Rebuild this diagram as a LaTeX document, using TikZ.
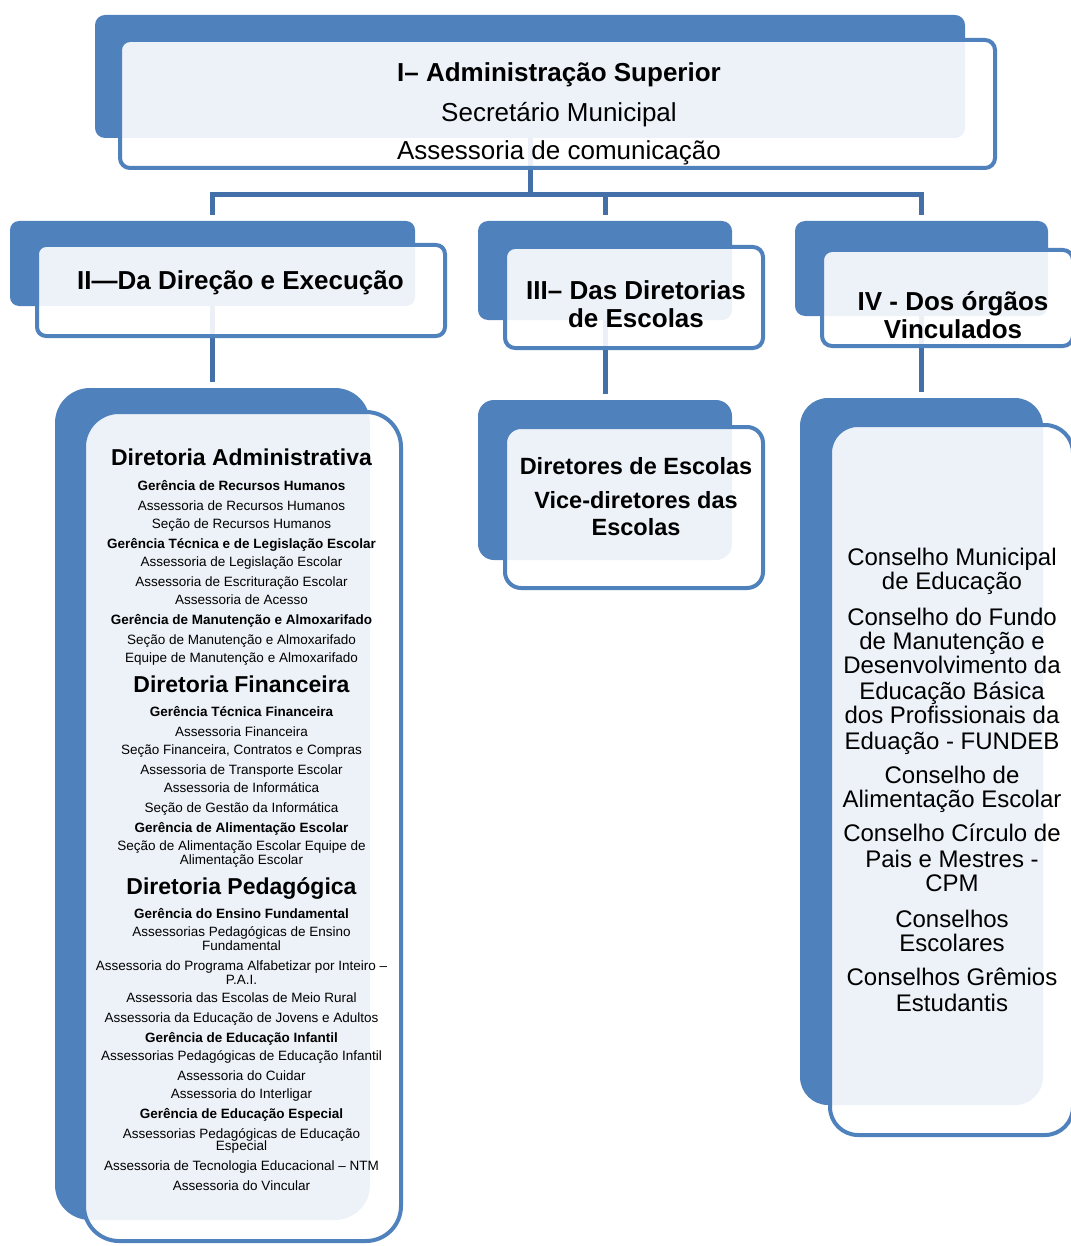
\documentclass[tikz,border=0pt]{standalone}
\usepackage{fontspec}
\setmainfont{Liberation Sans}
\definecolor{boxblue}{HTML}{4F81BD}
\definecolor{linkblue}{HTML}{4370A8}
\pgfdeclarelayer{links}
\pgfsetlayers{links,main}
\tikzset{
  backbox/.style={rectangle, fill=boxblue, inner sep=0pt},
  frontbox/.style={rectangle, fill=white, fill opacity=0.9, draw=boxblue, line width=4pt, inner sep=0pt},
  link/.style={draw=linkblue, line width=5pt},
  titleline/.style={font=\fontsize{26}{30}\selectfont\bfseries, anchor=base, yshift=-9.4pt, inner sep=0pt},
  plainline/.style={font=\fontsize{26}{30}\selectfont, anchor=base, yshift=-9.4pt, inner sep=0pt},
  escline/.style={font=\fontsize{23.5}{27}\selectfont\bfseries, anchor=base, yshift=-8.5pt, inner sep=0pt},
  dirhead/.style={font=\fontsize{23}{26}\selectfont\bfseries, anchor=base, yshift=-8.3pt, inner sep=0pt},
  gerline/.style={font=\fontsize{13.5}{15}\selectfont\bfseries, anchor=base, yshift=-4.9pt, inner sep=0pt},
  subline/.style={font=\fontsize{13.5}{15}\selectfont, anchor=base, yshift=-4.9pt, inner sep=0pt},
  orgline/.style={font=\fontsize{24}{27}\selectfont, anchor=base, yshift=-8.6pt, inner sep=0pt}
}
\begin{document}
\begin{tikzpicture}[x=1pt, y=-1pt]
  \useasboundingbox (0,0) rectangle (1070,1246);
  % back boxes
  \node[backbox, rounded corners=10pt, minimum width=870pt, minimum height=123pt] (supb) at (530,76.5) {};
  \node[backbox, rounded corners=9pt, minimum width=405pt, minimum height=85pt] (direcb) at (212.5,263.5) {};
  \node[backbox, rounded corners=10pt, minimum width=254pt, minimum height=99pt] (escb) at (605,270.5) {};
  \node[backbox, rounded corners=10pt, minimum width=253pt, minimum height=95pt] (orgb) at (921.5,268.5) {};
  \node[backbox, rounded corners=35pt, minimum width=315pt, minimum height=832pt] (admb) at (212.5,804) {};
  \node[backbox, rounded corners=16pt, minimum width=254pt, minimum height=160pt] (diretb) at (605,480) {};
  \node[backbox, rounded corners=28pt, minimum width=243pt, minimum height=707pt] (consb) at (921.5,751.5) {};
  \coordinate (bar) at (530,195);

  % front boxes
  \node[frontbox, rounded corners=10pt, minimum width=875pt, minimum height=128pt] (supf) at (557.5,104) {};
  \node[frontbox, rounded corners=9pt, minimum width=408pt, minimum height=91pt] (direcf) at (241,290.5) {};
  \node[frontbox, rounded corners=10pt, minimum width=258pt, minimum height=101pt] (escf) at (634,297.5) {};
  \node[frontbox, rounded corners=10pt, minimum width=251pt, minimum height=96pt] (orgf) at (947.5,298) {};
  \node[frontbox, rounded corners=35pt, minimum width=317pt, minimum height=829pt] (admf) at (242.5,826.5) {};
  \node[frontbox, rounded corners=16pt, minimum width=258pt, minimum height=161pt] (diretf) at (634,507.5) {};
  \node[frontbox, rounded corners=28pt, minimum width=243pt, minimum height=710pt] (consf) at (951.5,780) {};

  % connectors, behind the boxes
  \begin{pgfonlayer}{links}
    \draw[link] (supb.center) -- (bar);
    \draw[link, shorten >=6pt] (bar) -| (direcb.north);
    \draw[link, shorten >=6pt] (bar) -| (escb.north);
    \draw[link, shorten >=6pt] (bar) -| (orgb.north);
    \draw[link, shorten >=6pt] (direcb.center) -- (admb.north);
    \draw[link, shorten >=6pt] (escb.center) -- (diretb.north);
    \draw[link, shorten >=6pt] (orgb.center) -- (consb.north);
  \end{pgfonlayer}

  % texts
  \node[titleline] (sup1) at (559,72) {I– Administração Superior};
  \node[plainline] (sup2) at (559,112) {Secretário Municipal};
  \node[plainline] (sup3) at (559,150) {Assessoria de comunicação};
  \node[titleline] (direc1) at (240.5,280) {II—Da Direção e Execução};
  \node[titleline] (esc1) at (636,290) {III– Das Diretorias};
  \node[titleline] (esc2) at (636,318) {de Escolas};
  \node[titleline] (org1) at (953,301) {IV - Dos órgãos};
  \node[titleline] (org2) at (953,329) {Vinculados};
  \node[escline] (diret1) at (636,466) {Diretores de Escolas};
  \node[escline] (diret2) at (636,500) {Vice-diretores das};
  \node[escline] (diret3) at (636,527) {Escolas};

  \foreach \yy/\kind/\txt [count=\i] in {
      457/dirhead/Diretoria Administrativa,
      486/gerline/Gerência de Recursos Humanos,
      506/subline/Assessoria de Recursos Humanos,
      524/subline/Seção de Recursos Humanos,
      544/gerline/Gerência Técnica e de Legislação Escolar,
      562/subline/Assessoria de Legislação Escolar,
      582/subline/Assessoria de Escrituração Escolar,
      600/subline/Assessoria de Acesso,
      620/gerline/Gerência de Manutenção e Almoxarifado,
      640/subline/Seção de Manutenção e Almoxarifado,
      658/subline/Equipe de Manutenção e Almoxarifado,
      684/dirhead/Diretoria Financeira,
      712/gerline/Gerência Técnica Financeira,
      732/subline/Assessoria Financeira,
      750/subline/{Seção Financeira, Contratos e Compras},
      770/subline/Assessoria de Transporte Escolar,
      788/subline/Assessoria de Informática,
      808/subline/Seção de Gestão da Informática,
      828/gerline/Gerência de Alimentação Escolar,
      846/subline/Seção de Alimentação Escolar Equipe de,
      860/subline/Alimentação Escolar,
      886/dirhead/Diretoria Pedagógica,
      914/gerline/Gerência do Ensino Fundamental,
      932/subline/Assessorias Pedagógicas de Ensino,
      946/subline/Fundamental,
      966/subline/Assessoria do Programa Alfabetizar por Inteiro –,
      980/subline/P.A.I.,
      998/subline/Assessoria das Escolas de Meio Rural,
      1018/subline/Assessoria da Educação de Jovens e Adultos,
      1038/gerline/Gerência de Educação Infantil,
      1056/subline/Assessorias Pedagógicas de Educação Infantil,
      1076/subline/Assessoria do Cuidar,
      1094/subline/Assessoria do Interligar,
      1114/gerline/Gerência de Educação Especial,
      1134/subline/Assessorias Pedagógicas de Educação,
      1146/subline/Especial,
      1166/subline/Assessoria de Tecnologia Educacional – NTM,
      1186/subline/Assessoria do Vincular}
    \node[\kind] (adm\i) at (241.5,\yy) {\txt};

  \foreach \yy/\txt [count=\i] in {
      557/Conselho Municipal,
      581/de Educação,
      617/Conselho do Fundo,
      641/de Manutenção e,
      665/Desenvolvimento da,
      691/Educação Básica,
      715/dos Profissionais da,
      741/Eduação - FUNDEB,
      775/Conselho de,
      799/Alimentação Escolar,
      833/Conselho Círculo de,
      859/Pais e Mestres -,
      883/CPM,
      919/Conselhos,
      943/Escolares,
      977/Conselhos Grêmios,
      1003/Estudantis}
    \node[orgline] (cons\i) at (952,\yy) {\txt};
\end{tikzpicture}
\end{document}
